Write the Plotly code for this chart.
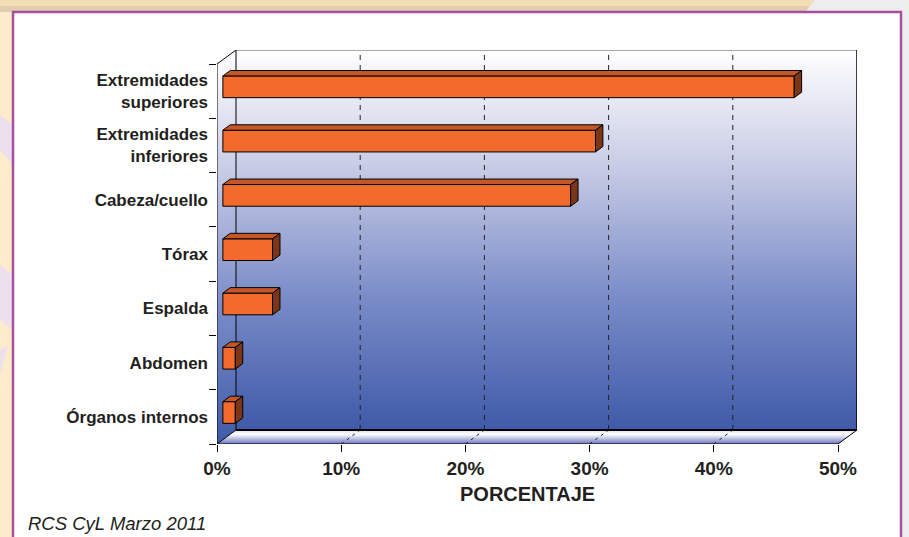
import plotly.graph_objects as go

# ---------------- data ----------------
categories = ["Extremidades<br>superiores", "Extremidades<br>inferiores", "Cabeza/cuello",
              "Tórax", "Espalda", "Abdomen", "Órganos internos"]
values = [46, 30, 28, 4, 4, 1, 1]
x_ticks = [0, 10, 20, 30, 40, 50]
x_tick_labels = ["0%", "10%", "20%", "30%", "40%", "50%"]
x_title = "PORCENTAJE"
source_note = "RCS CyL Marzo 2011"

# ---------------- geometry / style ----------------
W, H = 909, 537
ML, MR, MT, MB = 217, 52, 50, 93
PW, PH = W - ML - MR, H - MT - MB
XMAX = 50
DX, DY = 1.53, 0.258          # depth of the 3D box (axis units)
F0, F1 = 0.31, 0.70            # front/back depth fraction of bars
HALF = 0.2                     # half bar height
n = len(categories)
ypos = [n - 1 - i for i in range(n)]
YMIN, YMAX = -0.5, n - 0.5 + DY
FONT = "Liberation Sans, Arial, sans-serif"
TXT = "#231F20"
C_FRONT, C_TOP, C_SIDE = "#F26B2D", "#C4572A", "#7B3517"


def pxx(px):
    return (px - ML) / PW


def pxy(py):
    return (H - MB - py) / PH


fig = go.Figure()

# ---------- walls (main axes) ----------
wall_scale = [[0, "#3F5AA8"], [0.35, "#7A8CC8"], [0.7, "#C9CDE6"], [1, "#FFFFFF"]]
by0, by1 = YMIN + DY, YMAX
fig.add_trace(go.Scatter(
    x=[DX, XMAX + DX, XMAX + DX, DX, DX], y=[by0, by0, by1, by1, by0],
    mode="none", fill="toself",
    fillgradient=dict(type="vertical", colorscale=wall_scale, start=by0, stop=by1),
    hoverinfo="skip"))
fig.add_trace(go.Scatter(
    x=[0, 0, DX, DX, 0], y=[YMIN, n - 0.5, YMAX, by0, YMIN],
    mode="none", fill="toself",
    fillgradient=dict(type="vertical", colorscale=wall_scale, start=YMIN, stop=YMAX),
    hoverinfo="skip"))
floor_scale = [[0, "#6A74BC"], [0.35, "#B4BAE0"], [0.7, "#FFFFFF"], [1, "#D8DCF0"]]
fig.add_trace(go.Scatter(
    x=[0, XMAX, XMAX + DX, DX, 0], y=[YMIN, YMIN, by0, by0, YMIN],
    mode="none", fill="toself",
    fillgradient=dict(type="vertical", colorscale=floor_scale, start=YMIN, stop=by0),
    hoverinfo="skip"))

# gridlines on back wall and floor
gx, gy, fx, fy = [], [], [], []
for v in x_ticks[1:-1]:
    gx += [v + DX, v + DX, None]
    gy += [by0, by1 - 0.08, None]
    fx += [v, v + DX, None]
    fy += [YMIN, by0, None]
fig.add_trace(go.Scatter(x=gx, y=gy, mode="lines",
                         line=dict(color="#222222", width=1, dash="5px,5px"), hoverinfo="skip"))
fig.add_trace(go.Scatter(x=fx, y=fy, mode="lines",
                         line=dict(color="#222222", width=1, dash="3px,4px"), hoverinfo="skip"))

# box edges
edges = [
    ([DX, XMAX + DX], [by1, by1], "#555555", 1),
    ([XMAX + DX, XMAX + DX], [by1, by0], "#000000", 1.5),
    ([DX, DX], [by0, by1], "#000000", 1),
    ([DX, XMAX + DX], [by0, by0], "#000000", 2.2),
    ([0, XMAX, XMAX + DX], [YMIN, YMIN, by0], "#000000", 1),
    ([DX, 0, 0, DX], [by0, YMIN, n - 0.5, YMAX], "#000000", 1),
]
for ex, ey, c, w in edges:
    fig.add_trace(go.Scatter(x=ex, y=ey, mode="lines", line=dict(color=c, width=w), hoverinfo="skip"))

# ---------- bars (overlay axes) ----------
bar_y = [p + F0 * DY for p in ypos]
base = F0 * DX
fig.add_trace(go.Bar(
    orientation="h", x=values, y=bar_y, base=base, width=2 * HALF,
    marker=dict(color=C_FRONT, line=dict(color="#000000", width=1)),
    xaxis="x2", yaxis="y2", hoverinfo="skip"))
t = F1 - F0
tx, ty, sx, sy = [], [], [], []
for v, c in zip(values, bar_y):
    x0, x1 = base, base + v
    top = c + HALF
    bot = c - HALF
    tx += [x0, x1, x1 + t * DX, x0 + t * DX, x0, None]
    ty += [top, top, top + t * DY, top + t * DY, top, None]
    sx += [x1, x1, x1 + t * DX, x1 + t * DX, x1, None]
    sy += [bot, top, top + t * DY, bot + t * DY, bot, None]
fig.add_trace(go.Scatter(x=tx, y=ty, mode="lines", fill="toself", fillcolor=C_TOP,
                         line=dict(color="#000000", width=1), xaxis="x2", yaxis="y2", hoverinfo="skip"))
fig.add_trace(go.Scatter(x=sx, y=sy, mode="lines", fill="toself", fillcolor=C_SIDE,
                         line=dict(color="#000000", width=1), xaxis="x2", yaxis="y2", hoverinfo="skip"))

# ---------- decorations ----------
shapes = [
    dict(type="rect", xref="paper", yref="paper", x0=pxx(0), x1=pxx(13), y0=pxy(H), y1=pxy(0),
         fillcolor="#FDEBCB", line_width=0, layer="below"),
    dict(type="rect", xref="paper", yref="paper", x0=pxx(0), x1=pxx(W), y0=pxy(11), y1=pxy(0),
         fillcolor="#F3DDB6", line_width=0, layer="below"),
    dict(type="rect", xref="paper", yref="paper", x0=pxx(0), x1=pxx(W), y0=pxy(12), y1=pxy(6),
         fillcolor="#E2CDAE", line_width=0, layer="below"),
    dict(type="path", xref="paper", yref="paper", layer="below", line_width=0, fillcolor="#EDEDED",
         path=f"M {pxx(815)},{pxy(0)} L {pxx(W)},{pxy(0)} L {pxx(W)},{pxy(12)} L {pxx(805)},{pxy(12)} Z"),
    dict(type="rect", xref="paper", yref="paper", x0=pxx(902), x1=pxx(W), y0=pxy(H), y1=pxy(0),
         fillcolor="#EEEEEE", line_width=0, layer="below"),
    dict(type="path", xref="paper", yref="paper", layer="below", line_width=0, fillcolor="#EDE0EE",
         path=f"M {pxx(0)},{pxy(115)} L {pxx(13)},{pxy(125)} L {pxx(13)},{pxy(165)} L {pxx(0)},{pxy(150)} Z"),
    dict(type="path", xref="paper", yref="paper", layer="below", line_width=0, fillcolor="#EDE0EE",
         path=f"M {pxx(0)},{pxy(265)} L {pxx(13)},{pxy(275)} L {pxx(13)},{pxy(330)} L {pxx(0)},{pxy(320)} Z"),
    dict(type="path", xref="paper", yref="paper", layer="below", line_width=0, fillcolor="#EDE0EE",
         path=f"M {pxx(0)},{pxy(350)} L {pxx(8)},{pxy(345)} L {pxx(0)},{pxy(375)} Z"),
    dict(type="rect", xref="paper", yref="paper", x0=pxx(13), x1=pxx(901), y0=pxy(H + 5), y1=pxy(12),
         fillcolor="#FFFFFF", line=dict(color="#A8509F", width=2.5), layer="below"),
]

annotations = [
    dict(text=x_title, xref="x", yref="paper", x=XMAX / 2, y=pxy(494), xanchor="center", yanchor="middle",
         showarrow=False, font=dict(family=FONT, size=20, color=TXT, weight="bold")),
    dict(text=source_note, xref="paper", yref="paper", x=pxx(26), y=pxy(523), xanchor="left", yanchor="middle",
         showarrow=False, font=dict(family=FONT, size=18.5, color=TXT, style="italic")),
]

rng_x = [0, XMAX + DX]
rng_y = [YMIN, YMAX]
fig.update_layout(
    width=W, height=H, margin=dict(l=ML, r=MR, t=MT, b=MB, autoexpand=False),
    paper_bgcolor="#FFFFFF", plot_bgcolor="rgba(0,0,0,0)", showlegend=False,
    shapes=shapes, annotations=annotations,
    xaxis=dict(range=rng_x, tickvals=x_ticks, ticktext=x_tick_labels, ticks="outside", ticklen=7,
               tickcolor="#000000", tickwidth=1, showgrid=False, zeroline=False, showline=False,
               tickfont=dict(family=FONT, size=19, color=TXT, weight="bold"), fixedrange=True),
    yaxis=dict(range=rng_y, tickvals=[k - 0.5 for k in range(n + 1)], ticks="outside", ticklen=7,
               tickcolor="#000000", tickwidth=1, showticklabels=False, showgrid=False, zeroline=False,
               showline=False, fixedrange=True),
    xaxis2=dict(overlaying="x", range=rng_x, visible=False, fixedrange=True),
    yaxis2=dict(overlaying="y", range=rng_y, tickvals=ypos, ticktext=categories, ticks="",
                showgrid=False, zeroline=False, showline=False, ticklabelstandoff=8,
                tickfont=dict(family=FONT, size=17, color=TXT, weight="bold"), fixedrange=True),
)

fig.write_html("out.html", config={"displayModeBar": False},
               post_script="document.body.style.margin='0';document.body.style.padding='0';")
